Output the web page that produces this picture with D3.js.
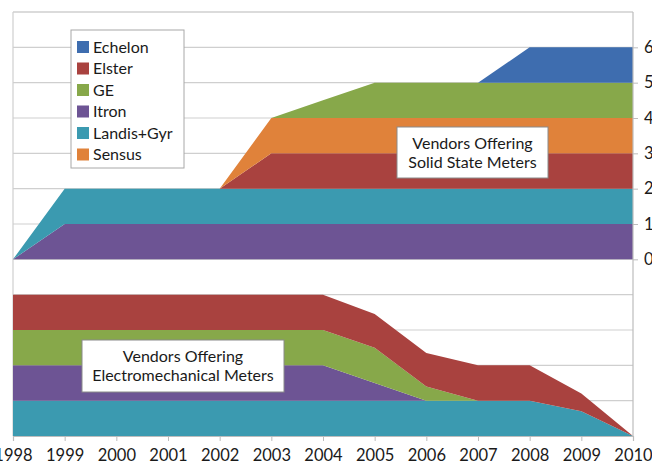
<!DOCTYPE html>
<html>
<head>
<meta charset="utf-8">
<script src="https://cdn.jsdelivr.net/npm/d3@7"></script>
<style>
  body { margin: 0; background: #fff; }
  text { font-family: Lato, "Open Sans", sans-serif; fill: #1a1a1a; }
</style>
</head>
<body>
<div id="chart"></div>
<script>
// years on the x axis
var years = [1998, 1999, 2000, 2001, 2002, 2003, 2004, 2005, 2006, 2007, 2008, 2009, 2010];

// vendors, legend order, with colours
var vendors = ["Echelon", "Elster", "GE", "Itron", "Landis+Gyr", "Sensus"];
var colors = ["#3e6daf", "#a9423f", "#87a84a", "#6d5494", "#3b9ab0", "#e0823a"];

// solid state meters (top stack), bottom to top
var solidOrder = ["Itron", "Landis+Gyr", "Elster", "Sensus", "GE", "Echelon"];
var solidItron    = [0, 1, 1, 1, 1, 1, 1, 1, 1, 1, 1, 1, 1];
var solidLandis   = [0, 1, 1, 1, 1, 1, 1, 1, 1, 1, 1, 1, 1];
var solidElster   = [0, 0, 0, 0, 0, 1, 1, 1, 1, 1, 1, 1, 1];
var solidSensus   = [0, 0, 0, 0, 0, 1, 1, 1, 1, 1, 1, 1, 1];
var solidGE       = [0, 0, 0, 0, 0, 0, 0.5, 1, 1, 1, 1, 1, 1];
var solidEchelon  = [0, 0, 0, 0, 0, 0, 0, 0, 0, 0, 1, 1, 1];

// electromechanical meters (bottom stack), bottom to top
var emOrder = ["Landis+Gyr", "Itron", "GE", "Elster"];
var emLandis = [1, 1, 1, 1, 1, 1, 1, 1, 1, 1, 1, 0.7, 0];
var emItron  = [1, 1, 1, 1, 1, 1, 1, 0.5, 0, 0, 0, 0, 0];
var emGE     = [1, 1, 1, 1, 1, 1, 1, 1, 0.4, 0, 0, 0, 0];
var emElster = [1, 1, 1, 1, 1, 1, 1, 0.95, 0.95, 1, 1, 0.5, 0];

// right axis tick labels
var yTicks = [0, 1, 2, 3, 4, 5, 6];

var W = 652, H = 466;
var plotLeft = 13, plotRight = 633, plotTop = 12, plotBottom = 436;

var svg = d3.select("#chart").append("svg")
  .attr("width", W).attr("height", H);

var x = d3.scaleLinear().domain([1998, 2010]).range([plotLeft, plotRight]);
// one shared scale: top chart 0..7, bottom chart sits from -5 to 0
var y = d3.scaleLinear().domain([-5, 7]).range([plotBottom, plotTop]);
var emBase = -5;

// gridlines
svg.append("g").selectAll("line")
  .data(d3.range(-4, 8))
  .enter().append("line")
  .attr("x1", plotLeft).attr("x2", plotRight)
  .attr("y1", d => y(d)).attr("y2", d => y(d))
  .attr("stroke", "#cfcfcf").attr("stroke-width", 1.2);

svg.append("line")
  .attr("x1", plotLeft).attr("x2", plotLeft)
  .attr("y1", plotTop).attr("y2", plotBottom)
  .attr("stroke", "#cfcfcf").attr("stroke-width", 1.2);

function colorOf(name) { return colors[vendors.indexOf(name)]; }

// build stacked tables
function buildRows(order, arrays) {
  return years.map(function(yr, i) {
    var row = {year: yr};
    order.forEach(function(k, j) { row[k] = arrays[j][i]; });
    return row;
  });
}

var solidRows = buildRows(solidOrder, [solidItron, solidLandis, solidElster, solidSensus, solidGE, solidEchelon]);
var emRows = buildRows(emOrder, [emLandis, emItron, emGE, emElster]);

var solidStack = d3.stack().keys(solidOrder)(solidRows);
var emStack = d3.stack().keys(emOrder)(emRows);

var areaTop = d3.area()
  .x(d => x(d.data.year))
  .y0(d => y(d[0]))
  .y1(d => y(d[1]));

var areaBottom = d3.area()
  .x(d => x(d.data.year))
  .y0(d => y(emBase + d[0]))
  .y1(d => y(emBase + d[1]));

svg.append("g").selectAll("path")
  .data(emStack)
  .enter().append("path")
  .attr("d", areaBottom)
  .attr("fill", d => colorOf(d.key));

svg.append("g").selectAll("path")
  .data(solidStack)
  .enter().append("path")
  .attr("d", areaTop)
  .attr("fill", d => colorOf(d.key));

// top border
svg.append("line")
  .attr("x1", plotLeft).attr("x2", plotRight)
  .attr("y1", plotTop).attr("y2", plotTop)
  .attr("stroke", "#cfcfcf").attr("stroke-width", 1.2);

// x axis
var xAxis = svg.append("g")
  .attr("transform", "translate(0," + plotBottom + ")")
  .call(d3.axisBottom(x).tickValues(years).tickFormat(d3.format("d")).tickSize(5).tickPadding(8));
xAxis.select(".domain").attr("stroke", "#bdbdbd").attr("stroke-width", 1.2);
xAxis.selectAll(".tick line").attr("stroke", "#bdbdbd");
xAxis.selectAll("text").style("font-size", "16.5px").attr("fill", "#1a1a1a");

// right axis
var yAxis = svg.append("g")
  .attr("transform", "translate(" + plotRight + ",0)")
  .call(d3.axisRight(y).tickValues(yTicks).tickSize(5).tickPadding(6));
yAxis.select(".domain").attr("d", "M0," + plotTop + "V" + plotBottom).attr("stroke", "#bdbdbd").attr("stroke-width", 1.2);
yAxis.selectAll(".tick line").attr("stroke", "#bdbdbd");
yAxis.selectAll("text").style("font-size", "16.5px").attr("fill", "#1a1a1a");

// legend
var legend = svg.append("g").attr("transform", "translate(71,30)");
legend.append("rect")
  .attr("width", 113).attr("height", 138)
  .attr("fill", "#fff").attr("stroke", "#a8a8a8");
var item = legend.selectAll("g.item")
  .data(vendors)
  .enter().append("g")
  .attr("transform", (d, i) => "translate(6," + (17 + i * 21.5) + ")");
item.append("rect")
  .attr("x", 0).attr("y", -6).attr("width", 12).attr("height", 12)
  .attr("fill", (d, i) => colors[i]);
item.append("text")
  .attr("x", 16).attr("dy", "0.35em")
  .style("font-size", "16px")
  .text(d => d);

// text boxes
function labelBox(x0, y0, w, h, lines) {
  var g = svg.append("g");
  g.append("rect")
    .attr("x", x0).attr("y", y0).attr("width", w).attr("height", h)
    .attr("fill", "#fff").attr("stroke", "#8a8a8a");
  lines.forEach(function(t, i) {
    g.append("text")
      .attr("x", x0 + w / 2).attr("y", y0 + h / 2 + (i - 0.5) * 19)
      .attr("dy", "0.35em")
      .attr("text-anchor", "middle")
      .style("font-size", "16px")
      .text(t);
  });
}
labelBox(397, 127, 151, 51, ["Vendors Offering", "Solid State Meters"]);
labelBox(82, 340, 202, 52, ["Vendors Offering", "Electromechanical Meters"]);
</script>
</body>
</html>
